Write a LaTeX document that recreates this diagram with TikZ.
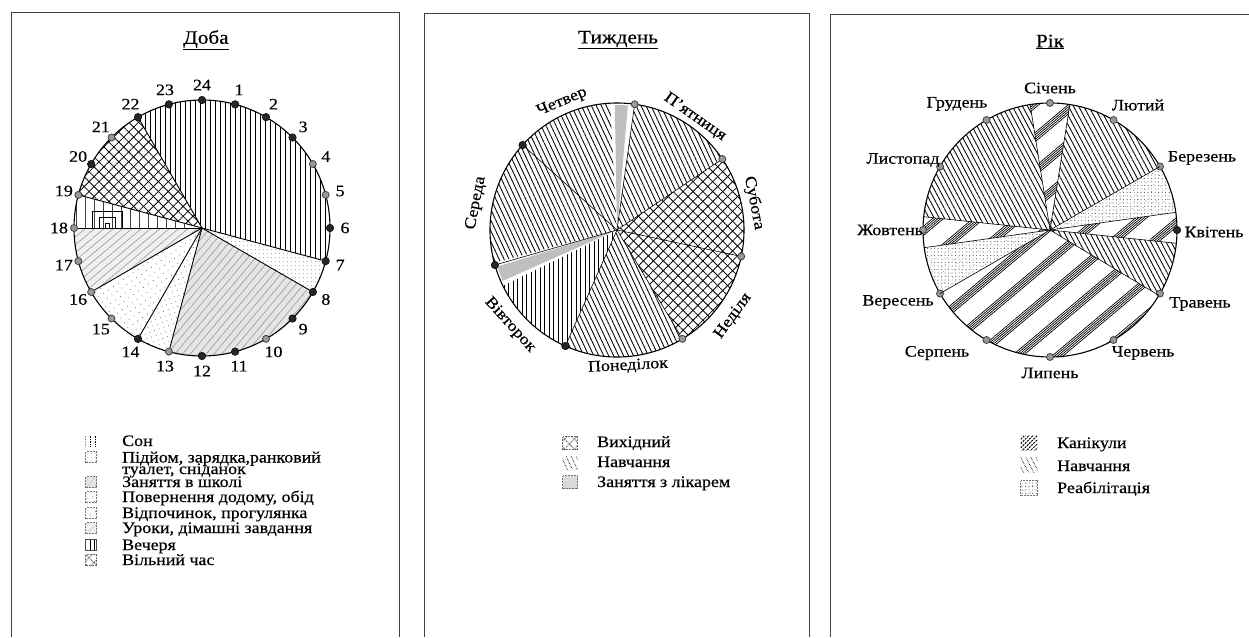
\documentclass[tikz,border=0pt]{standalone}
\usepackage{fontspec}
\setmainfont{Liberation Serif}[FakeStretch=1.12, FakeBold=0.4]
\usetikzlibrary{patterns.meta}
\tikzset{
  lbl/.style={font=\fontsize{16}{16}\selectfont, inner sep=0pt},
  ttl/.style={font=\fontsize{19}{19}\selectfont, inner sep=0pt},
  leg/.style={font=\fontsize{16}{16}\selectfont, inner sep=0pt, anchor=base west},
  panelframe/.style={draw=black!75, line width=1pt},
  rim/.style={draw=black, line width=1.1pt},
  spoke/.style={draw=black, line width=0.9pt},
  dotD/.style={circle, fill=black!85, draw=black, line width=0.5pt, inner sep=0pt, minimum size=7.5pt},
  dotG/.style={circle, fill=black!40, draw=black!75, line width=0.8pt, inner sep=0pt, minimum size=7pt},
  sw/.style={draw=black!55, densely dotted, line width=0.5pt, inner sep=0pt, minimum width=11pt, minimum height=11pt},
  pSon/.style={pattern={Lines[angle=90,distance=5pt,line width=0.8pt]}, pattern color=black},
  pWake/.style={fill=white, postaction={pattern={Dots[distance=4pt,radius=0.5pt]}, pattern color=black!55}},
  pSchool/.style={fill=black!10, postaction={pattern={Lines[angle=50,distance=6pt,line width=0.5pt]}, pattern color=black!45}},
  pHome/.style={fill=white, postaction={pattern={Dots[distance=5pt,radius=0.5pt,angle=20]}, pattern color=black!60}},
  pRest/.style={fill=white, postaction={pattern={Dots[distance=6pt,radius=0.55pt,angle=35]}, pattern color=black!60}},
  pLessons/.style={fill=black!6, postaction={pattern={Lines[angle=40,distance=6pt,line width=0.5pt]}, pattern color=black!45}},
  pFree/.style={fill=white,
    postaction={pattern={Lines[angle=45,distance=7pt,line width=0.8pt]}, pattern color=black},
    postaction={pattern={Lines[angle=-45,distance=7pt,line width=0.8pt]}, pattern color=black}},
  pStudy/.style={pattern={Lines[angle=-65,distance=4.5pt,line width=0.85pt]}, pattern color=black},
  pVert/.style={pattern={Lines[angle=90,distance=4.5pt,line width=0.8pt]}, pattern color=black},
  pDoc/.style={fill=black!25},
  pKan/.style={fill=white,
    postaction={pattern={Lines[angle=40,distance=26pt,line width=0.7pt]}, pattern color=black},
    postaction={pattern={Lines[angle=40,distance=26pt,yshift=2.3pt,line width=0.7pt]}, pattern color=black},
    postaction={pattern={Lines[angle=40,distance=26pt,yshift=4.6pt,line width=0.7pt]}, pattern color=black},
    postaction={pattern={Lines[angle=40,distance=26pt,yshift=6.9pt,line width=0.7pt]}, pattern color=black},
    postaction={pattern={Lines[angle=40,distance=26pt,yshift=9.2pt,line width=0.7pt]}, pattern color=black}},
  pStudyY/.style={pattern={Lines[angle=-62,distance=4.5pt,line width=0.85pt]}, pattern color=black},
  pReh/.style={fill=white,
    postaction={pattern={Dots[distance=3.5pt,radius=0.5pt]}, pattern color=black!70},
    postaction={pattern={Dots[distance=5pt,radius=0.45pt,angle=30]}, pattern color=black!55}},
}
\begin{document}
\begin{tikzpicture}[x=1pt,y=-1pt]
\useasboundingbox (0,0) rectangle (1249,637);
\fill[white] (0,0) rectangle (1249,637);

% ---------- frames ----------
\draw[panelframe] (11,637) -- (11,12) -- (399,12) -- (399,637);
\draw[panelframe] (424,637) -- (424,13) -- (809,13) -- (809,637);
\draw[panelframe] (830,637) -- (830,14) -- (1249,14);

% ---------- titles ----------
\node[ttl] (t1) at (206,40) {\underline{Доба}};
\node[ttl] (t2) at (618,40) {\underline{Тиждень}};
\node[ttl] (t3) at (1050,42) {\underline{Рік}};

% ================= Panel 1: day =================
\coordinate (c1) at (202,228);
\begin{scope}[shift={(202,228)}, y=1pt]
  \path[pSon] (0,0) -- (120:128) arc[start angle=120,end angle=-15,radius=128] -- cycle;
  \path[pWake] (0,0) -- (-15:128) arc[start angle=-15,end angle=-30,radius=128] -- cycle;
  \path[pSchool] (0,0) -- (-30:128) arc[start angle=-30,end angle=-105,radius=128] -- cycle;
  \path[pHome] (0,0) -- (-105:128) arc[start angle=-105,end angle=-120,radius=128] -- cycle;
  \path[pRest] (0,0) -- (-120:128) arc[start angle=-120,end angle=-150,radius=128] -- cycle;
  \path[pLessons] (0,0) -- (-150:128) arc[start angle=-150,end angle=-180,radius=128] -- cycle;
  \begin{scope}
    \clip (0,0) -- (180:128) arc[start angle=180,end angle=165,radius=128] -- cycle;
    \foreach \x in {-126,-117,...,-10} \draw[black!75, line width=0.6pt] (\x,0) -- (\x,40);
    \draw[line width=0.8pt] (-110,0) -- (-110,17) -- (-80,17) -- (-80,0);
    \draw[line width=0.8pt] (-103,0) -- (-103,11) -- (-87,11) -- (-87,0);
    \draw[line width=0.8pt] (-97,0) -- (-97,5) -- (-93,5) -- (-93,0);
  \end{scope}
  \path[pFree] (0,0) -- (165:128) arc[start angle=165,end angle=120,radius=128] -- cycle;
  \draw[rim] (0,0) circle[radius=128];
  \foreach \h/\s in {24/dotD,1/dotD,2/dotD,3/dotD,4/dotG,5/dotG,6/dotD,7/dotD,8/dotD,9/dotD,10/dotG,11/dotD,12/dotD,13/dotG,14/dotD,15/dotG,16/dotG,17/dotG,18/dotG,19/dotG,20/dotD,21/dotG,22/dotD,23/dotD}{
    \node[\s] (h\h) at ({90-15*\h}:128) {};
    \node[lbl] (n\h) at ({90-15*\h}:143) {\h};
  }
\end{scope}
\foreach \h in {22,7,8,13,14,16,18,19} \draw[spoke] (c1) -- (h\h);

% legend 1
\node[sw, pSon, draw=none] (s11) at (91,441) {};
\node[sw, pWake] (s12) at (91,457) {};
\node[sw, pSchool] (s13) at (91,482) {};
\node[sw, pHome] (s14) at (91,497) {};
\node[sw, pRest] (s15) at (91,513) {};
\node[sw, pLessons] (s16) at (91,528) {};
\node[sw, pVert, draw=black!70, solid] (s17) at (91,545) {};
\node[sw, pFree] (s18) at (91,560) {};
\node[leg] (l11) at (122,446) {Сон};
\node[leg] (l12) at (122,462.5) {Підйом, зарядка,ранковий};
\node[leg] (l12b) at (122,474) {туалет, сніданок};
\node[leg] (l13) at (122,487) {Заняття в школі};
\node[leg] (l14) at (122,502) {Повернення додому, обід};
\node[leg] (l15) at (122,518) {Відпочинок, прогулянка};
\node[leg] (l16) at (122,533) {Уроки, дімашні завдання};
\node[leg] (l17) at (122,550) {Вечеря};
\node[leg] (l18) at (122,565) {Вільний час};

% ================= Panel 2: week =================
\coordinate (c2) at (617,230);
\begin{scope}[shift={(617,230)}, y=1pt]
  \path[pStudy] (0,0) -- (-59:127) arc[start angle=-59,end angle=-114,radius=127] -- cycle;
  \path[pVert] (0,0) -- (-114:127) arc[start angle=-114,end angle=-154,radius=127] -- cycle;
  \path[fill=white] (0,0) -- (-154:127) arc[start angle=-154,end angle=-165,radius=127] -- cycle;
  \path[pDoc] (0,0) -- (-156:125) arc[start angle=-156,end angle=-163,radius=125] -- cycle;
  \path[pStudy] (0,0) -- (195:127) arc[start angle=195,end angle=93,radius=127] -- cycle;
  \path[fill=white] (0,0) -- (93:127) arc[start angle=93,end angle=82,radius=127] -- cycle;
  \path[pDoc] (0,0) -- (91:125) arc[start angle=91,end angle=85,radius=125] -- cycle;
  \path[pStudy] (0,0) -- (82:127) arc[start angle=82,end angle=34,radius=127] -- cycle;
  \path[pFree] (0,0) -- (34:127) arc[start angle=34,end angle=-59,radius=127] -- cycle;
  \draw[rim] (0,0) circle[radius=127];
  \node[dotG] (d5) at (82:127) {};
  \node[dotG] (d6) at (34:127) {};
  \node[dotG] (d7) at (-12:127) {};
  \node[dotG] (d8) at (-59:127) {};
  \node[dotD] (d1) at (-114:127) {};
  \node[dotD] (d2) at (196:127) {};
  \node[dotD] (d4) at (138:127) {};
\end{scope}
\foreach \d in {d5,d6,d7,d8,d1,d2,d4} \draw[spoke, line width=0.6pt] (c2) -- (\d);
\node[lbl, rotate=23] (w4) at (562,102) {Четвер};
\node[lbl, rotate=-35] (w5) at (695,117) {П’ятниця};
\node[lbl, rotate=-79] (w6) at (754,203) {Субота};
\node[lbl, rotate=54] (w7) at (733,316) {Неділя};
\node[lbl, rotate=3] (w1) at (628,366) {Понеділок};
\node[lbl, rotate=-48] (w2) at (510,325) {Вівторок};
\node[lbl, rotate=79] (w3) at (476,203) {Середа};

% legend 2
\node[sw, pFree, minimum width=15pt, minimum height=13pt] (s21) at (570,443) {};
\node[sw, pStudy, draw=none, minimum width=15pt, minimum height=13pt] (s22) at (570,463) {};
\node[sw, pDoc, fill=black!15, minimum width=15pt, minimum height=13pt] (s23) at (570,482) {};
\node[leg] (l21) at (597,447) {Вихідний};
\node[leg] (l22) at (597,467) {Навчання};
\node[leg] (l23) at (597,487) {Заняття з лікарем};

% ================= Panel 3: year =================
\coordinate (c3) at (1050,230);
\begin{scope}[shift={(1050,230)}, y=1pt]
  \path[pKan] (0,0) -- (99:127) arc[start angle=99,end angle=81,radius=127] -- cycle;
  \path[pStudyY] (0,0) -- (81:127) arc[start angle=81,end angle=30,radius=127] -- cycle;
  \path[pReh] (0,0) -- (30:127) arc[start angle=30,end angle=8,radius=127] -- cycle;
  \path[pKan] (0,0) -- (8:127) arc[start angle=8,end angle=-6,radius=127] -- cycle;
  \path[pStudyY] (0,0) -- (-6:127) arc[start angle=-6,end angle=-31,radius=127] -- cycle;
  \path[pKan] (0,0) -- (-31:127) arc[start angle=-31,end angle=-150,radius=127] -- cycle;
  \path[pReh] (0,0) -- (-150:127) arc[start angle=-150,end angle=-172,radius=127] -- cycle;
  \path[pKan] (0,0) -- (188:127) arc[start angle=188,end angle=174,radius=127] -- cycle;
  \path[pStudyY] (0,0) -- (174:127) arc[start angle=174,end angle=99,radius=127] -- cycle;
  \foreach \a/\n in {99/b1,81/b2,30/b3,8/b4,-6/b5,-31/b6,-150/b7,-172/b8,174/b9}
    \coordinate (\n) at (\a:127);
  \draw[rim] (0,0) circle[radius=127];
  \foreach \m/\s in {1/dotG,2/dotG,3/dotG,4/dotD,5/dotG,6/dotG,7/dotG,8/dotG,9/dotG,10/dotG,11/dotG,12/dotG}
    \node[\s] (y\m) at ({120-30*\m}:127) {};
\end{scope}
\foreach \b in {b1,b2,b3,b4,b5,b6,b7,b8,b9} \draw[spoke, line width=0.6pt] (c3) -- (\b);
\node[lbl] (m1) at (1050,88) {Січень};
\node[lbl] (m2) at (1138,105) {Лютий};
\node[lbl] (m3) at (1202,158) {Березень};
\node[lbl] (m4) at (1214,232) {Квітень};
\node[lbl] (m5) at (1200,304) {Травень};
\node[lbl] (m6) at (1143,353) {Червень};
\node[lbl] (m7) at (1050,373) {Липень};
\node[lbl] (m8) at (937,353) {Серпень};
\node[lbl] (m9) at (898,302) {Вересень};
\node[lbl] (m10) at (890,230) {Жовтень};
\node[lbl] (m11) at (903,160) {Листопад};
\node[lbl] (m12) at (957,104) {Грудень};

% legend 3
\node[sw, draw=none, minimum width=17pt, minimum height=15pt, pattern={Lines[angle=45,distance=3pt,line width=1pt]}, pattern color=black] (s31) at (1029,443) {};
\node[sw, draw=none, minimum width=17pt, minimum height=15pt, pStudyY] (s32) at (1029,465) {};
\node[sw, minimum width=17pt, minimum height=15pt, pReh] (s33) at (1029,488) {};
\node[leg] (l31) at (1057,448) {Канікули};
\node[leg] (l32) at (1057,471) {Навчання};
\node[leg] (l33) at (1057,493) {Реабілітація};
\end{tikzpicture}
\end{document}
